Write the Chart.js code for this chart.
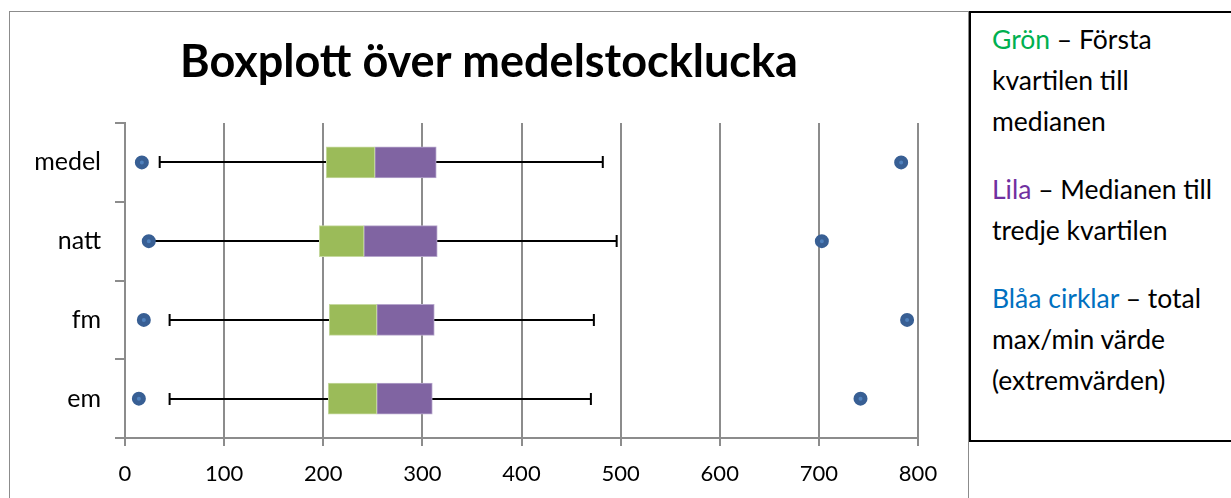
<!DOCTYPE html>
<html lang="sv">
<head>
<meta charset="utf-8">
<title>Boxplott över medelstocklucka</title>
<script src="https://cdn.jsdelivr.net/npm/chart.js@4/dist/chart.umd.min.js"></script>
<style>
  html, body { margin: 0; padding: 0; background: #fff; width: 1231px; height: 498px; overflow: hidden; font-family: Lato, "Open Sans", sans-serif; }
  #chartBox { position: absolute; left: 9px; top: 11px; width: 958px; height: 490px; border: 1px solid #8c8c8c; background: #fff; }
  #chartBox canvas { display: block; }
  #note { position: absolute; left: 969px; top: 11px; width: 300px; height: 427px; border: 2px solid #000; background: #fff; box-sizing: content-box; padding: 0; }
  #note p { margin: 0 0 27px 0; padding-left: 21px; font-size: 26.5px; line-height: 41px; color: #000; white-space: nowrap; }
  #note p:first-child { margin-top: 6px; }
  .gron { color: #00b050; }
  .lila { color: #7030a0; }
  .bla { color: #0070c0; }
</style>
</head>
<body>
<div id="chartBox"><canvas id="box" width="958" height="490"></canvas></div>
<div id="note">
  <p><span class="gron">Grön</span> – Första<br>kvartilen till<br>medianen</p>
  <p><span class="lila">Lila</span> – Medianen till<br>tredje kvartilen</p>
  <p><span class="bla">Blåa cirklar</span> – total<br>max/min värde<br>(extremvärden)</p>
</div>
<script>
// Grupper (uppifrån och ned)
const categories = ['medel', 'natt', 'fm', 'em'];
// Extremvärden (blå cirklar)
const extremeMin = [17, 24, 19, 14];
const extremeMax = [783, 703, 789, 742];
// Morrhår
const whiskerLow = [35, 24, 45, 45];
const whiskerHigh = [482, 496, 473, 470];
// Kvartiler
const firstQuartile = [203, 196, 206, 205];
const medianVals = [252, 241, 254, 254];
const thirdQuartile = [314, 315, 312, 310];
// X-axelns skala
const xMin = 0;
const xMax = 800;
const xStep = 100;

const FONT = 'Lato, "Open Sans", sans-serif';
const GRID = '#8c8c8c';

// Morrhår ritas under lådorna och cirklarna
const whiskerPlugin = {
  id: 'whiskers',
  beforeDatasetsDraw(chart) {
    const { ctx, scales: { x, y } } = chart;
    ctx.save();
    ctx.strokeStyle = '#000';
    ctx.lineWidth = 2;
    categories.forEach((c, i) => {
      const cy = Math.round(y.getPixelForValue(i));
      const x0 = x.getPixelForValue(whiskerLow[i]);
      const x1 = x.getPixelForValue(whiskerHigh[i]);
      ctx.beginPath();
      ctx.moveTo(x0, cy); ctx.lineTo(x1, cy);
      ctx.moveTo(x0, cy - 6); ctx.lineTo(x0, cy + 6);
      ctx.moveTo(x1, cy - 6); ctx.lineTo(x1, cy + 6);
      ctx.stroke();
    });
    ctx.restore();
  }
};

const pointStyle = {
  pointRadius: 4.5,
  pointBorderWidth: 5,
  pointBackgroundColor: '#4f81bd',
  pointBorderColor: '#385f94',
  pointHoverRadius: 4.5
};

new Chart(document.getElementById('box'), {
  type: 'bar',
  data: {
    labels: categories,
    datasets: [
      {
        label: 'Grön',
        data: categories.map((c, i) => [firstQuartile[i], medianVals[i]]),
        backgroundColor: '#9bbb59',
        borderColor: '#c6d9a0',
        borderWidth: 1,
        borderSkipped: false,
        grouped: false,
        barThickness: 31,
        order: 2
      },
      {
        label: 'Lila',
        data: categories.map((c, i) => [medianVals[i], thirdQuartile[i]]),
        backgroundColor: '#8064a2',
        borderColor: '#b6a6cc',
        borderWidth: 1,
        borderSkipped: false,
        grouped: false,
        barThickness: 31,
        order: 2
      },
      Object.assign({
        type: 'scatter',
        label: 'min',
        data: categories.map((c, i) => ({ x: extremeMin[i], y: c })),
        xAxisID: 'x',
        yAxisID: 'y',
        order: 1
      }, pointStyle),
      Object.assign({
        type: 'scatter',
        label: 'max',
        data: categories.map((c, i) => ({ x: extremeMax[i], y: c })),
        xAxisID: 'x',
        yAxisID: 'y',
        order: 1
      }, pointStyle)
    ]
  },
  options: {
    indexAxis: 'y',
    responsive: false,
    animation: false,
    devicePixelRatio: 1,
    events: [],
    layout: { padding: 0 },
    plugins: {
      legend: { display: false },
      tooltip: { enabled: false },
      title: {
        display: true,
        text: 'Boxplott över medelstocklucka',
        color: '#000',
        font: { family: FONT, size: 45, weight: 'bold', lineHeight: 1.2 },
        padding: { top: 23, bottom: 34 }
      }
    },
    scales: {
      x: {
        type: 'linear',
        min: xMin,
        max: xMax,
        ticks: {
          stepSize: xStep,
          color: '#000',
          font: { family: FONT, size: 22 },
          padding: 15
        },
        grid: {
          color: GRID,
          lineWidth: 2,
          tickLength: 8,
          tickColor: GRID
        },
        border: { color: GRID, width: 2 },
        afterFit(s) { s.height = 64; }
      },
      y: {
        type: 'category',
        offset: true,
        ticks: {
          color: '#000',
          font: { family: FONT, size: 25 },
          padding: 14
        },
        grid: {
          offset: true,
          drawOnChartArea: false,
          tickLength: 10,
          color: GRID,
          lineWidth: 2
        },
        border: { color: GRID, width: 2 },
        afterFit(s) { s.width = 115; }
      },
      // tom marginal till höger om diagramytan
      rightMargin: {
        type: 'linear',
        position: 'right',
        display: true,
        ticks: { display: false },
        grid: { display: false, drawTicks: false },
        border: { display: false },
        afterFit(s) { s.width = 50; }
      }
    }
  },
  plugins: [whiskerPlugin]
});
</script>
</body>
</html>
